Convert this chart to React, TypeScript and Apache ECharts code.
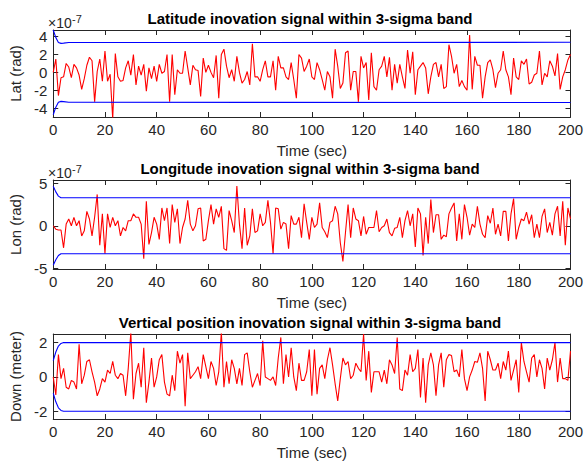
import React, { useEffect, useRef } from "react";
import * as echarts from "echarts";

// ---------- data (values in display units; lat/lon in 1e-7 rad, down in meters) ----------
const latInnov = [
  0.0, 1.5, -2.6, -0.6, -0.5, 1.0, 0.6, -0.6, 0.9, 0.5,
  -0.3, -1.9, -0.7, 0.8, 1.7, 1.3, -3.3, 0.1, 1.5, -1.0,
  2.4, -1.0, -0.2, -5.2, 2.1, -0.5, -1.0, -0.9, 0.5, 1.3,
  -0.3, 2.0, -1.4, 0.7, -0.3, 0.9, -2.1, 0.5, -0.7, 0.7,
  -1.0, 0.9, -0.1, 0.1, 2.0, -3.3, 2.0, -2.5, 0.3, -0.1,
  -0.1, 2.4, 0.5, -1.4, 0.8, 0.3, 0.2, -2.7, 1.6, 0.0,
  0.8, 0.0, -0.6, 1.9, -2.9, 2.0, 2.6, 0.7, -0.6, 0.3,
  -1.0, 1.8, 0.0, -1.2, -0.8, 0.1, -1.4, 3.2, -0.5, -0.5,
  -1.0, 0.3, 1.3, -0.5, -0.5, 1.3, -2.0, 1.8, 0.5, 0.5,
  -0.5, -0.8, 1.1, -0.8, -2.9, 2.0, 1.6, 0.1, 0.7, 1.5,
  -0.5, -0.8, 1.1, 0.3, -0.8, -2.0, 0.1, -0.5, -2.9, 2.6,
  0.7, -1.8, -1.2, 2.2, 2.4, -2.0, 0.1, 0.1, -3.3, 1.8,
  0.5, 1.1, -3.1, 2.2, -1.6, -2.0, 0.3, 0.7, 1.8, -0.5,
  1.7, -2.0, 0.9, -1.2, 0.9, -0.5, -1.8, 2.5, -0.1, 2.3,
  -2.5, 0.3, 0.7, 1.1, 0.5, -2.4, -0.5, 0.9, 1.1, -0.5,
  0.9, -1.8, -1.6, 3.1, 1.8, -0.1, 0.9, -1.6, -0.9, -1.6,
  -2.0, 4.2, -1.9, 1.8, 0.8, 0.8, -2.9, -0.5, 1.1, 1.4,
  0.3, -1.7, -0.1, 0.3, 2.4, 0.3, -0.5, -2.5, 1.6, -0.5,
  -0.8, 1.3, 0.9, 1.5, -1.3, -1.1, -0.3, -0.1, 2.4, -1.4,
  -0.1, -0.5, 1.3, 0.7, -0.4, 2.1, -1.9, -0.5, 0.3, 1.4,
  2.0,
];

const lonInnov = [
  0.0, -0.4, -0.5, -0.5, -2.6, 0.2, 0.8, 0.0, 1.0, 0.0,
  0.6, -1.2, -0.6, 1.7, 0.8, -1.2, 1.0, 3.7, -2.3, 1.4,
  -3.3, 1.4, -0.2, 1.0, 0.0, 0.6, -1.2, -0.2, -0.6, 0.6,
  0.6, 1.4, 1.0, 1.0, 0.2, -3.9, 2.9, -2.2, -0.8, 1.0,
  0.2, -1.6, 2.1, 0.6, 2.1, -2.1, 2.5, 0.4, 2.0, -2.1,
  -0.2, 0.8, 3.0, 0.2, -0.6, 0.0, 2.0, 2.1, -1.8, -1.6,
  0.6, 2.5, 0.2, 2.0, 1.0, 2.3, -2.7, -2.9, 1.8, 0.6,
  -0.8, 4.7, 0.2, -2.7, 2.1, -2.3, -1.2, 2.0, -0.8, -0.6,
  1.4, 0.0, 0.4, 3.0, 0.4, -3.3, 2.1, 2.0, -0.4, 0.4,
  0.2, -2.7, 1.2, 0.2, 0.2, 1.0, -1.4, 2.6, 0.4, -1.6,
  1.0, -0.2, 0.2, 2.7, -0.2, -0.7, -1.4, 0.4, 0.6, 2.3,
  1.4, -2.0, -4.2, -0.8, 2.5, -1.4, 2.1, 0.8, 0.6, -1.2,
  1.1, -1.0, -0.2, -0.2, -0.2, 1.8, -0.7, -0.2, 0.0, 0.8,
  -0.8, -1.2, -0.3, -0.2, 1.0, -1.4, 0.6, 1.8, 0.0, 1.4,
  -2.5, 2.1, 1.4, -3.5, 1.0, -2.1, 3.1, -0.8, 1.3, 1.3,
  -1.6, -1.1, -1.3, 1.4, 2.1, 2.7, -1.8, 1.4, -1.6, 2.5,
  1.0, -1.1, 0.2, -0.2, 2.3, 0.2, -1.0, -1.4, 1.2, 0.3,
  2.1, -1.0, 0.2, -1.2, 1.7, 1.7, -1.8, 1.4, 3.2, -1.6,
  -0.2, 0.8, 0.6, 1.6, 0.2, 1.3, -1.4, 0.2, -1.4, 1.1,
  2.0, -0.8, 0.4, -1.1, 1.4, 2.3, -1.2, 2.9, -2.3, 2.1,
  0.8,
];

const downInnov = [
  0.0, -1.05, 1.3, -0.1, 0.5, -0.6, -0.7, -0.2, -0.3, -0.7,
  1.9, -0.4, 0.1, 0.9, 1.0, 0.3, -0.3, -1.1, -0.7, -0.1,
  -0.3, 0.4, 0.2, 0.9, 0.1, -0.1, 0.2, 0.1, -1.1, 0.5,
  2.6, -1.3, 0.2, 0.8, -0.6, 1.7, -1.5, -0.3, 1.1, -0.6,
  0.0, 1.0, 1.3, -0.3, -1.0, -1.1, 0.1, -0.8, 1.5, 0.8,
  1.3, -1.7, 1.4, -0.1, 0.1, 0.3, 0.6, -0.1, 1.3, 0.6,
  -0.1, 0.9, 0.5, -0.5, 0.3, 2.6, -0.6, 0.9, -0.4, 1.0,
  0.5, -0.4, 0.5, -0.5, 1.3, 1.4, 0.3, -0.6, -0.2, 0.2,
  -0.5, 2.1, 0.0, -0.1, -0.2, 0.0, -0.5, 1.1, 2.3, -0.4,
  1.3, 0.0, 1.7, 0.0, -0.8, 0.8, -0.2, -0.2, 0.3, 1.6,
  -1.1, 1.6, -1.0, 0.5, 0.7, -0.1, 1.0, 1.7, 0.7, -0.4,
  -1.4, -0.1, 1.1, 0.7, 0.9, -0.1, 0.1, 0.8, 0.5, 0.3,
  2.5, -0.2, 1.5, -0.9, 0.3, 0.3, 0.3, -0.3, 0.4, -0.4,
  1.0, 0.7, 0.2, 2.3, -0.7, -0.8, 0.4, 0.1, 1.3, 0.3,
  0.5, 1.6, -1.2, 1.1, -1.5, 0.7, 1.4, 0.7, -1.1, 0.7,
  1.4, -0.6, 1.0, 1.3, 1.25, 0.3, 0.4, 0.0, 1.6, -0.1,
  -0.8, 0.0, 0.4, 0.9, 0.85, 1.4, 0.5, -1.4, 1.5, 1.0,
  0.4, 0.4, 0.8, -0.1, 0.9, 0.4, 1.5, -0.2, 0.4, 1.0,
  -0.9, 2.0, 0.9, 0.3, -0.3, 1.1, 1.3, 0.0, 1.0, 0.5,
  -0.7, 1.1, 0.4, 1.0, 2.0, -0.3, 1.1, -0.1, -0.1, -0.2,
  1.5,
];

// 3-sigma band (time, value) breakpoints
const latSigmaT = [0, 1, 2, 3, 4, 6, 200];
const latSigma = [4.75, 3.9, 3.35, 3.25, 3.28, 3.35, 3.37];
const lonSigmaT = [0, 1, 2, 3, 5, 200];
const lonSigma = [4.65, 4.0, 3.5, 3.3, 3.3, 3.3];
const downSigmaT = [0, 1, 2, 3, 4, 200];
const downSigma = [0.95, 1.45, 1.8, 1.95, 2.0, 2.0];

const latTicks = [-4, -2, 0, 2, 4];
const lonTicks = [-5, 0, 5];
const downTicks = [-2, 0, 2];
const timeMin = 0;
const timeMax = 200;
const timeStep = 20;

const titles = [
  "Latitude inovation signal within 3-sigma band",
  "Longitude inovation signal within 3-sigma band",
  "Vertical position inovation signal within 3-sigma band",
];
const yLabels = ["Lat (rad)", "Lon (rad)", "Down (meter)"];
const xLabel = "Time (sec)";

// ---------- layout ----------
const FONT = '"Liberation Sans", Arial, Helvetica, sans-serif';
const AXC = "#262626";
const FS = 15;
const panels = [
  { data: latInnov, sT: latSigmaT, s: latSigma, ticks: latTicks, min: -5, max: 4.75, top: 30, height: 87, exp: true },
  { data: lonInnov, sT: lonSigmaT, s: lonSigma, ticks: lonTicks, min: -5.1, max: 5.4, top: 180, height: 89, exp: true },
  { data: downInnov, sT: downSigmaT, s: downSigma, ticks: downTicks, min: -2.45, max: 2.5, top: 334, height: 87, exp: false },
];
const LEFT = 48;
const WIDTH = 524;

function buildOption() {
  const grid: any[] = [];
  const xAxis: any[] = [];
  const yAxis: any[] = [];
  const series: any[] = [];
  const graphic: any[] = [];

  panels.forEach((p, i) => {
    grid.push({ left: LEFT, top: p.top, width: WIDTH, height: p.height, containLabel: false });
    const axLine = { show: true, onZero: false, lineStyle: { color: AXC, width: 1 } };
    const tick = { show: true, inside: true, length: 5, lineStyle: { color: AXC, width: 1 } };
    xAxis.push({
      type: "value", gridIndex: i, position: "bottom", min: timeMin, max: timeMax, interval: timeStep,
      axisLine: axLine, axisTick: tick, splitLine: { show: false },
      axisLabel: { show: true, margin: 5, fontSize: FS, color: AXC, fontFamily: FONT, showMinLabel: true, showMaxLabel: true },
      name: xLabel, nameLocation: "middle", nameGap: 26,
      nameTextStyle: { fontSize: FS, color: AXC, fontFamily: FONT },
    });
    xAxis.push({
      type: "value", gridIndex: i, position: "top", min: timeMin, max: timeMax, interval: timeStep,
      axisLine: axLine, axisTick: tick, splitLine: { show: false }, axisLabel: { show: false },
    });
    yAxis.push({
      type: "value", gridIndex: i, position: "left", min: p.min, max: p.max,
      axisLine: axLine, axisTick: { ...tick, customValues: p.ticks }, splitLine: { show: false },
      axisLabel: { show: true, customValues: p.ticks, margin: 6, fontSize: FS, color: AXC, fontFamily: FONT },
      name: yLabels[i], nameLocation: "middle", nameGap: 19,
      nameTextStyle: { fontSize: FS, color: AXC, fontFamily: FONT },
    });
    yAxis.push({
      type: "value", gridIndex: i, position: "right", min: p.min, max: p.max,
      axisLine: axLine, axisTick: { ...tick, customValues: p.ticks }, splitLine: { show: false },
      axisLabel: { show: false },
    });

    series.push({
      type: "line", xAxisIndex: 2 * i, yAxisIndex: 2 * i, showSymbol: false, symbol: "none",
      data: p.data.map((v, t) => [t, v]), lineStyle: { color: "#ff0000", width: 1.1 }, itemStyle: { color: "#ff0000" },
      clip: true, silent: true,
    });
    series.push({
      type: "line", xAxisIndex: 2 * i, yAxisIndex: 2 * i, showSymbol: false, symbol: "none",
      data: p.sT.map((t, k) => [t, p.s[k]]), lineStyle: { color: "#0000ff", width: 1.1 }, itemStyle: { color: "#0000ff" },
      clip: true, silent: true,
    });
    series.push({
      type: "line", xAxisIndex: 2 * i, yAxisIndex: 2 * i, showSymbol: false, symbol: "none",
      data: p.sT.map((t, k) => [t, -p.s[k]]), lineStyle: { color: "#0000ff", width: 1.1 }, itemStyle: { color: "#0000ff" },
      clip: true, silent: true,
    });

    graphic.push({
      type: "text", x: LEFT + WIDTH / 2, y: p.top - 12,
      style: { text: titles[i], align: "center", verticalAlign: "middle", font: `bold 15px ${FONT}`, fill: "#000" },
    });
    if (p.exp) {
      graphic.push({
        type: "text", x: LEFT, y: p.top - 7,
        style: { text: "×10", align: "left", verticalAlign: "middle", font: `14px ${FONT}`, fill: AXC },
      });
      graphic.push({
        type: "text", x: LEFT + 24, y: p.top - 11,
        style: { text: "-7", align: "left", verticalAlign: "middle", font: `11px ${FONT}`, fill: AXC },
      });
    }
  });

  return {
    animation: false,
    backgroundColor: "#ffffff",
    grid, xAxis, yAxis, series, graphic,
  };
}

export default function App() {
  const ref = useRef<HTMLDivElement>(null);
  useEffect(() => {
    if (!ref.current) return;
    const chart = echarts.init(ref.current, undefined, { renderer: "svg" });
    chart.setOption(buildOption() as any);
    return () => chart.dispose();
  }, []);
  return (
    <div
      ref={ref}
      style={{ position: "absolute", left: 0, top: 0, width: 586, height: 461, background: "#fff" }}
    />
  );
}
